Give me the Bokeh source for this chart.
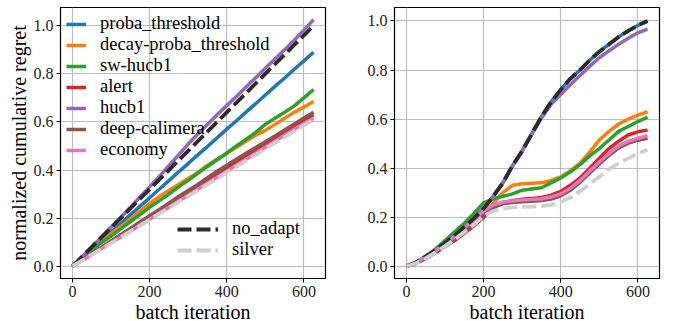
from bokeh.plotting import figure
from bokeh.layouts import row
from bokeh.models import Legend, LegendItem, Range1d, FixedTicker, PrintfTickFormatter
from bokeh.embed import file_html
from bokeh.resources import INLINE

iterations = [0, 25, 50, 75, 100, 125, 150, 175, 200, 225, 250, 275, 300,
              325, 350, 375, 400, 425, 450, 475, 500, 525, 550, 575, 600, 625]

names = ["proba_threshold", "decay-proba_threshold", "sw-hucb1", "alert",
         "hucb1", "deep-calimera", "economy"]
colors = ["#1f77b4", "#ff7f0e", "#2ca02c", "#d62728", "#9467bd", "#8c564b", "#e377c2"]
ref_names = ["no_adapt", "silver"]
ref_colors = ["#2b2b2b", "#cfcfcf"]

# left panel
left_proba = [0, 0.036, 0.071, 0.107, 0.142, 0.178, 0.214, 0.249, 0.285, 0.32, 0.356, 0.392, 0.427,
              0.463, 0.498, 0.534, 0.57, 0.605, 0.641, 0.676, 0.712, 0.748, 0.783, 0.819, 0.854, 0.89]
left_decay = [0, 0.035, 0.07, 0.1, 0.135, 0.165, 0.195, 0.23, 0.26, 0.29, 0.315, 0.34, 0.365,
              0.39, 0.42, 0.445, 0.47, 0.495, 0.52, 0.545, 0.565, 0.59, 0.615, 0.64, 0.662, 0.685]
left_sw = [0, 0.035, 0.068, 0.098, 0.125, 0.155, 0.185, 0.215, 0.245, 0.272, 0.3, 0.33, 0.357,
           0.386, 0.415, 0.443, 0.47, 0.5, 0.527, 0.557, 0.59, 0.615, 0.64, 0.667, 0.7, 0.735]
left_alert = [0, 0.025, 0.05, 0.075, 0.1, 0.125, 0.15, 0.175, 0.2, 0.226, 0.252, 0.278, 0.304,
              0.33, 0.356, 0.382, 0.408, 0.433, 0.458, 0.483, 0.508, 0.533, 0.558, 0.583, 0.607, 0.63]
left_hucb1 = [0, 0.04, 0.08, 0.121, 0.162, 0.203, 0.245, 0.288, 0.33, 0.373, 0.418, 0.463, 0.508,
              0.55, 0.59, 0.63, 0.668, 0.706, 0.745, 0.784, 0.823, 0.862, 0.9, 0.94, 0.982, 1.025]
left_deep = [0, 0.027, 0.053, 0.079, 0.105, 0.131, 0.157, 0.184, 0.21, 0.236, 0.262, 0.29, 0.315,
             0.34, 0.368, 0.395, 0.42, 0.445, 0.47, 0.494, 0.518, 0.542, 0.567, 0.592, 0.616, 0.64]
left_economy = [0, 0.024, 0.048, 0.073, 0.097, 0.121, 0.146, 0.17, 0.195, 0.22, 0.245, 0.27, 0.295,
                0.32, 0.345, 0.37, 0.395, 0.42, 0.445, 0.47, 0.495, 0.52, 0.545, 0.57, 0.593, 0.615]
left_no_adapt = [0, 0.04, 0.08, 0.12, 0.16, 0.2, 0.24, 0.28, 0.32, 0.36, 0.4, 0.44, 0.48,
                 0.52, 0.56, 0.6, 0.64, 0.68, 0.72, 0.76, 0.8, 0.84, 0.88, 0.92, 0.96, 1.0]
left_silver = [0, 0.024, 0.048, 0.072, 0.096, 0.12, 0.145, 0.169, 0.193, 0.218, 0.242, 0.267, 0.291,
               0.316, 0.34, 0.365, 0.39, 0.414, 0.439, 0.463, 0.488, 0.513, 0.537, 0.562, 0.586, 0.61]

# right panel
right_proba = [0, 0.015, 0.04, 0.065, 0.095, 0.125, 0.16, 0.195, 0.235, 0.285, 0.34, 0.41, 0.47,
               0.54, 0.61, 0.67, 0.72, 0.765, 0.8, 0.84, 0.875, 0.905, 0.935, 0.96, 0.982, 1.0]
right_decay = [0, 0.012, 0.035, 0.058, 0.085, 0.115, 0.15, 0.185, 0.225, 0.255, 0.3, 0.33, 0.336,
               0.338, 0.34, 0.35, 0.364, 0.39, 0.42, 0.465, 0.515, 0.55, 0.58, 0.6, 0.616, 0.63]
right_sw = [0, 0.015, 0.04, 0.07, 0.105, 0.14, 0.175, 0.215, 0.258, 0.275, 0.285, 0.295, 0.31,
            0.315, 0.32, 0.34, 0.36, 0.385, 0.414, 0.45, 0.48, 0.515, 0.55, 0.57, 0.59, 0.608]
right_alert = [0, 0.012, 0.032, 0.055, 0.08, 0.105, 0.135, 0.165, 0.2, 0.24, 0.258, 0.268, 0.273,
               0.276, 0.28, 0.29, 0.305, 0.33, 0.36, 0.4, 0.44, 0.48, 0.51, 0.535, 0.548, 0.555]
right_hucb1 = [0, 0.015, 0.04, 0.065, 0.095, 0.125, 0.16, 0.195, 0.235, 0.285, 0.34, 0.41, 0.47,
               0.54, 0.605, 0.66, 0.7, 0.74, 0.778, 0.815, 0.85, 0.878, 0.905, 0.93, 0.952, 0.967]
right_deep = [0, 0.012, 0.033, 0.056, 0.082, 0.11, 0.142, 0.175, 0.21, 0.24, 0.255, 0.26, 0.263,
              0.265, 0.268, 0.274, 0.287, 0.31, 0.342, 0.38, 0.417, 0.452, 0.482, 0.502, 0.514, 0.522]
right_economy = [0.002, 0.015, 0.038, 0.062, 0.09, 0.12, 0.155, 0.19, 0.225, 0.25, 0.262, 0.267, 0.27,
                 0.272, 0.275, 0.282, 0.295, 0.318, 0.35, 0.388, 0.425, 0.46, 0.49, 0.51, 0.522, 0.532]
right_no_adapt = [0, 0.015, 0.04, 0.065, 0.095, 0.125, 0.16, 0.195, 0.235, 0.285, 0.34, 0.41, 0.47,
                  0.54, 0.61, 0.67, 0.72, 0.765, 0.8, 0.84, 0.875, 0.905, 0.935, 0.96, 0.982, 1.0]
right_silver = [0, 0.012, 0.033, 0.056, 0.082, 0.11, 0.14, 0.17, 0.205, 0.225, 0.235, 0.24, 0.242,
                0.243, 0.245, 0.25, 0.262, 0.28, 0.305, 0.335, 0.365, 0.395, 0.42, 0.44, 0.46, 0.475]

x_ticks = [0, 200, 400, 600]
y_ticks = [0.0, 0.2, 0.4, 0.6, 0.8, 1.0]

FONT = "Liberation Serif"


def make_fig(border_left, border_right, y_range, ylabel):
    p = figure(frame_width=265, frame_height=271, output_backend="svg", toolbar_location=None,
               x_range=Range1d(-31, 656), y_range=Range1d(*y_range),
               min_border_left=border_left, min_border_right=border_right,
               min_border_top=7, min_border_bottom=34)
    p.outline_line_color = "black"
    p.outline_line_width = 1.2
    p.background_fill_color = "white"
    p.border_fill_color = "white"
    for ax in (p.xaxis[0], p.yaxis[0]):
        ax.major_label_text_font = FONT
        ax.major_label_text_font_size = "16px"
        ax.major_label_text_color = "#222222"
        ax.axis_label_text_font = FONT
        ax.axis_label_text_font_size = "20px"
        ax.axis_label_text_font_style = "normal"
        ax.axis_label_text_color = "black"
        ax.axis_line_color = "black"
        ax.major_tick_line_color = "black"
        ax.major_tick_out = 4
        ax.major_tick_in = 0
        ax.minor_tick_line_color = None
        ax.major_label_standoff = 3
        ax.axis_label_standoff = 1
    p.xaxis.ticker = FixedTicker(ticks=x_ticks)
    p.yaxis.ticker = FixedTicker(ticks=y_ticks)
    p.yaxis.formatter = PrintfTickFormatter(format="%.1f")
    p.xaxis.axis_label = "batch iteration"
    if ylabel:
        p.yaxis.axis_label = ylabel
    p.grid.grid_line_color = "#bdbdbd"
    p.grid.grid_line_width = 1.2
    return p


def style_legend(lg, glyph_w, standoff):
    lg.background_fill_alpha = 0
    lg.border_line_alpha = 0
    lg.label_text_font = FONT
    lg.label_text_font_size = "18.5px"
    lg.label_text_color = "black"
    lg.label_text_line_height = 1.0
    lg.glyph_width = glyph_w
    lg.glyph_height = 18
    lg.label_height = 18
    lg.spacing = 0
    lg.padding = 2
    lg.label_standoff = standoff
    lg.margin = 5


def draw(p, series, refs, legends):
    main = []
    for name, c, ys in zip(names, colors, series):
        r = p.line(iterations, ys, line_color=c, line_width=3.5)
        main.append(LegendItem(label=name, renderers=[r]))
    extra = []
    for name, c, ys in zip(ref_names, ref_colors, refs):
        r = p.line(iterations, ys, line_color=c, line_width=3.8, line_dash="14 5")
        extra.append(LegendItem(label=name, renderers=[r]))
    if legends:
        lg1 = Legend(items=main, location="top_left")
        style_legend(lg1, 20, 14)
        lg1.margin = 4
        p.add_layout(lg1)
        lg2 = Legend(items=extra, location=(115, 16))
        style_legend(lg2, 41, 14)
        lg2.margin = 0
        p.add_layout(lg2)


p1 = make_fig(60, 7, (-0.051, 1.076), "normalized cumulative regret")
draw(p1, [left_proba, left_decay, left_sw, left_alert, left_hucb1, left_deep, left_economy],
     [left_no_adapt, left_silver], True)

p2 = make_fig(62, 5, (-0.05, 1.055), None)
draw(p2, [right_proba, right_decay, right_sw, right_alert, right_hucb1, right_deep, right_economy],
     [right_no_adapt, right_silver], False)

layout = row(p1, p2)
open("out.html", "w").write(file_html(layout, INLINE))
